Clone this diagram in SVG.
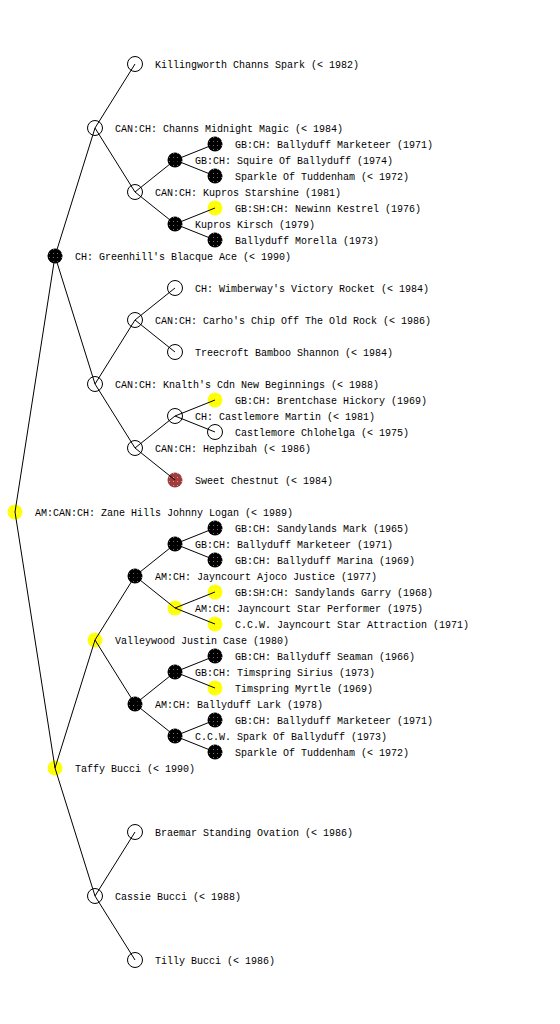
<svg xmlns="http://www.w3.org/2000/svg" width="560" height="1024" viewBox="0 0 560 1024">
<style>
text{font-family:"Liberation Mono","DejaVu Sans Mono",monospace;font-size:10px;fill:#000}
.o{fill:none;stroke:#000;stroke-width:1}
.b{fill:url(#pb)}
.y{fill:url(#py)}
.r{fill:url(#pr)}
.e line{stroke:#000;stroke-width:1}
</style>
<defs>
<pattern id="pb" width="4" height="4" patternUnits="userSpaceOnUse"><rect width="4" height="4" fill="#000"/><rect x="1" y="1" width="1" height="1" fill="#fff" opacity="0.45"/></pattern>
<pattern id="py" width="4" height="4" patternUnits="userSpaceOnUse"><rect width="4" height="4" fill="#ffff00"/><rect x="1" y="1" width="1" height="1" fill="#fff" opacity="0.5"/></pattern>
<pattern id="pr" width="4" height="4" patternUnits="userSpaceOnUse"><rect width="4" height="4" fill="#a03c3c"/><rect x="1" y="1" width="1" height="1" fill="#fff" opacity="0.5"/></pattern>
</defs>
<rect width="560" height="1024" fill="#fff"/>
<g id="nodes">
<g id="n-zane"><circle class="y" cx="15" cy="512" r="7.5"/><text x="35" y="516">AM:CAN:CH: Zane Hills Johnny Logan (&lt; 1989)</text></g>
<g id="n-greenhill"><circle class="b" cx="55" cy="256" r="7.5"/><text x="75" y="260">CH: Greenhill's Blacque Ace (&lt; 1990)</text></g>
<g id="n-taffy"><circle class="y" cx="55" cy="768" r="7.5"/><text x="75" y="772">Taffy Bucci (&lt; 1990)</text></g>
<g id="n-channs"><circle class="o" cx="95" cy="128" r="7.5"/><text x="115" y="132">CAN:CH: Channs Midnight Magic (&lt; 1984)</text></g>
<g id="n-knalth"><circle class="o" cx="95" cy="384" r="7.5"/><text x="115" y="388">CAN:CH: Knalth's Cdn New Beginnings (&lt; 1988)</text></g>
<g id="n-valleywood"><circle class="y" cx="95" cy="640" r="7.5"/><text x="115" y="644">Valleywood Justin Case (1980)</text></g>
<g id="n-cassie"><circle class="o" cx="95" cy="896" r="7.5"/><text x="115" y="900">Cassie Bucci (&lt; 1988)</text></g>
<g id="n-killingworth"><circle class="o" cx="135" cy="64" r="7.5"/><text x="155" y="68">Killingworth Channs Spark (&lt; 1982)</text></g>
<g id="n-kupros"><circle class="o" cx="135" cy="192" r="7.5"/><text x="155" y="196">CAN:CH: Kupros Starshine (1981)</text></g>
<g id="n-carho"><circle class="o" cx="135" cy="320" r="7.5"/><text x="155" y="324">CAN:CH: Carho's Chip Off The Old Rock (&lt; 1986)</text></g>
<g id="n-hephzibah"><circle class="o" cx="135" cy="448" r="7.5"/><text x="155" y="452">CAN:CH: Hephzibah (&lt; 1986)</text></g>
<g id="n-ajoco"><circle class="b" cx="135" cy="576" r="7.5"/><text x="155" y="580">AM:CH: Jayncourt Ajoco Justice (1977)</text></g>
<g id="n-lark"><circle class="b" cx="135" cy="704" r="7.5"/><text x="155" y="708">AM:CH: Ballyduff Lark (1978)</text></g>
<g id="n-braemar"><circle class="o" cx="135" cy="832" r="7.5"/><text x="155" y="836">Braemar Standing Ovation (&lt; 1986)</text></g>
<g id="n-tilly"><circle class="o" cx="135" cy="960" r="7.5"/><text x="155" y="964">Tilly Bucci (&lt; 1986)</text></g>
<g id="n-squire"><circle class="b" cx="175" cy="160" r="7.5"/><text x="195" y="164">GB:CH: Squire Of Ballyduff (1974)</text></g>
<g id="n-kirsch"><circle class="b" cx="175" cy="224" r="7.5"/><text x="195" y="228">Kupros Kirsch (1979)</text></g>
<g id="n-wimberway"><circle class="o" cx="175" cy="288" r="7.5"/><text x="195" y="292">CH: Wimberway's Victory Rocket (&lt; 1984)</text></g>
<g id="n-treecroft"><circle class="o" cx="175" cy="352" r="7.5"/><text x="195" y="356">Treecroft Bamboo Shannon (&lt; 1984)</text></g>
<g id="n-castlemore"><circle class="o" cx="175" cy="416" r="7.5"/><text x="195" y="420">CH: Castlemore Martin (&lt; 1981)</text></g>
<g id="n-sweet"><circle class="r" cx="175" cy="480" r="7.5"/><text x="195" y="484">Sweet Chestnut (&lt; 1984)</text></g>
<g id="n-marketeer1"><circle class="b" cx="175" cy="544" r="7.5"/><text x="195" y="548">GB:CH: Ballyduff Marketeer (1971)</text></g>
<g id="n-performer"><circle class="y" cx="175" cy="608" r="7.5"/><text x="195" y="612">AM:CH: Jayncourt Star Performer (1975)</text></g>
<g id="n-sirius"><circle class="b" cx="175" cy="672" r="7.5"/><text x="195" y="676">GB:CH: Timspring Sirius (1973)</text></g>
<g id="n-spark"><circle class="b" cx="175" cy="736" r="7.5"/><text x="195" y="740">C.C.W. Spark Of Ballyduff (1973)</text></g>
<g id="n-g5a"><circle class="b" cx="215" cy="144" r="7.5"/><text x="235" y="148">GB:CH: Ballyduff Marketeer (1971)</text></g>
<g id="n-g5b"><circle class="b" cx="215" cy="176" r="7.5"/><text x="235" y="180">Sparkle Of Tuddenham (&lt; 1972)</text></g>
<g id="n-g5c"><circle class="y" cx="215" cy="208" r="7.5"/><text x="235" y="212">GB:SH:CH: Newinn Kestrel (1976)</text></g>
<g id="n-g5d"><circle class="b" cx="215" cy="240" r="7.5"/><text x="235" y="244">Ballyduff Morella (1973)</text></g>
<g id="n-g5e"><circle class="y" cx="215" cy="400" r="7.5"/><text x="235" y="404">GB:CH: Brentchase Hickory (1969)</text></g>
<g id="n-g5f"><circle class="o" cx="215" cy="432" r="7.5"/><text x="235" y="436">Castlemore Chlohelga (&lt; 1975)</text></g>
<g id="n-g5g"><circle class="b" cx="215" cy="528" r="7.5"/><text x="235" y="532">GB:CH: Sandylands Mark (1965)</text></g>
<g id="n-g5h"><circle class="b" cx="215" cy="560" r="7.5"/><text x="235" y="564">GB:CH: Ballyduff Marina (1969)</text></g>
<g id="n-g5i"><circle class="y" cx="215" cy="592" r="7.5"/><text x="235" y="596">GB:SH:CH: Sandylands Garry (1968)</text></g>
<g id="n-g5j"><circle class="y" cx="215" cy="624" r="7.5"/><text x="235" y="628">C.C.W. Jayncourt Star Attraction (1971)</text></g>
<g id="n-g5k"><circle class="b" cx="215" cy="656" r="7.5"/><text x="235" y="660">GB:CH: Ballyduff Seaman (1966)</text></g>
<g id="n-g5l"><circle class="y" cx="215" cy="688" r="7.5"/><text x="235" y="692">Timspring Myrtle (1969)</text></g>
<g id="n-g5m"><circle class="b" cx="215" cy="720" r="7.5"/><text x="235" y="724">GB:CH: Ballyduff Marketeer (1971)</text></g>
<g id="n-g5n"><circle class="b" cx="215" cy="752" r="7.5"/><text x="235" y="756">Sparkle Of Tuddenham (&lt; 1972)</text></g>
</g>
<g id="connectors" class="e">
<line x1="15" y1="512" x2="55" y2="256"/>
<line x1="15" y1="512" x2="55" y2="768"/>
<line x1="55" y1="256" x2="95" y2="128"/>
<line x1="55" y1="256" x2="95" y2="384"/>
<line x1="55" y1="768" x2="95" y2="640"/>
<line x1="55" y1="768" x2="95" y2="896"/>
<line x1="95" y1="128" x2="135" y2="64"/>
<line x1="95" y1="128" x2="135" y2="192"/>
<line x1="95" y1="384" x2="135" y2="320"/>
<line x1="95" y1="384" x2="135" y2="448"/>
<line x1="95" y1="640" x2="135" y2="576"/>
<line x1="95" y1="640" x2="135" y2="704"/>
<line x1="95" y1="896" x2="135" y2="832"/>
<line x1="95" y1="896" x2="135" y2="960"/>
<line x1="135" y1="192" x2="175" y2="160"/>
<line x1="135" y1="192" x2="175" y2="224"/>
<line x1="135" y1="320" x2="175" y2="288"/>
<line x1="135" y1="320" x2="175" y2="352"/>
<line x1="135" y1="448" x2="175" y2="416"/>
<line x1="135" y1="448" x2="175" y2="480"/>
<line x1="135" y1="576" x2="175" y2="544"/>
<line x1="135" y1="576" x2="175" y2="608"/>
<line x1="135" y1="704" x2="175" y2="672"/>
<line x1="135" y1="704" x2="175" y2="736"/>
<line x1="175" y1="160" x2="215" y2="144"/>
<line x1="175" y1="160" x2="215" y2="176"/>
<line x1="175" y1="224" x2="215" y2="208"/>
<line x1="175" y1="224" x2="215" y2="240"/>
<line x1="175" y1="416" x2="215" y2="400"/>
<line x1="175" y1="416" x2="215" y2="432"/>
<line x1="175" y1="544" x2="215" y2="528"/>
<line x1="175" y1="544" x2="215" y2="560"/>
<line x1="175" y1="608" x2="215" y2="592"/>
<line x1="175" y1="608" x2="215" y2="624"/>
<line x1="175" y1="672" x2="215" y2="656"/>
<line x1="175" y1="672" x2="215" y2="688"/>
<line x1="175" y1="736" x2="215" y2="720"/>
<line x1="175" y1="736" x2="215" y2="752"/>
</g>
</svg>
